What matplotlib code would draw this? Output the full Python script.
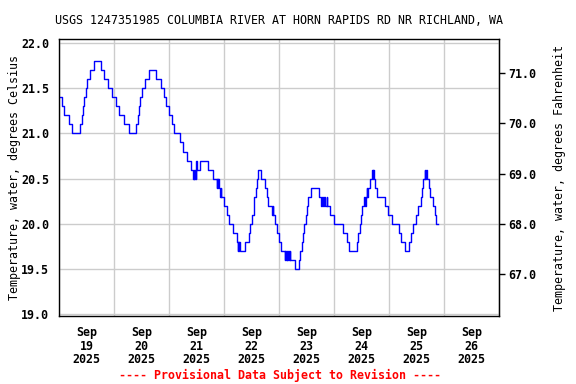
import matplotlib
matplotlib.use("Agg")
import matplotlib.pyplot as plt
import matplotlib.dates as mdates
from datetime import datetime, timedelta

# hours after 2025-09-19 00:00 where the reading changes, and the new reading (deg C)
change_hours = [
    0.0, 1.2, 2.3, 4.4, 5.8, 9.3, 9.9, 10.5, 11.0, 11.6, 12.4, 13.4, 15.4,
    18.3, 19.5, 21.2, 23.3, 24.8, 26.2, 28.5, 30.6, 33.8, 34.3, 34.9, 35.5,
    36.4, 37.4, 39.1, 42.2, 44.6, 46.0, 46.9, 47.9, 49.3, 50.4, 52.8, 54.3,
    55.8, 57.7, 58.6, 58.9, 59.1, 59.4, 59.6, 60.0, 60.3, 61.5, 65.2, 67.0,
    68.8, 69.0, 69.3, 69.5, 69.8, 70.3, 70.5, 70.8, 71.9, 73.2, 74.2, 76.1,
    77.6, 78.0, 78.2, 78.4, 78.6, 78.9, 81.2, 82.7, 83.4, 84.1, 84.9, 85.3,
    85.9, 86.3, 87.0, 88.2, 90.0, 90.7, 91.4, 92.9, 93.2, 93.6, 94.3, 95.1,
    96.0, 96.9, 98.6, 98.8, 99.0, 99.3, 99.5, 100.0, 100.3, 100.6, 101.0,
    103.0, 104.7, 105.3, 105.9, 106.5, 107.1, 107.6, 108.2, 108.8, 110.0,
    113.5, 114.5, 114.8, 115.2, 115.5, 116.0, 116.8, 117.1, 118.3, 120.2,
    124.1, 125.5, 126.6, 129.9, 130.6, 131.3, 131.8, 132.4, 133.2, 133.5,
    133.8, 134.3, 134.6, 134.9, 135.7, 136.7, 137.0, 137.2, 137.6, 138.0,
    138.6, 142.3, 143.6, 145.3, 148.2, 149.1, 151.1, 152.6, 153.7, 154.5,
    155.9, 156.7, 157.8, 158.4, 158.8, 159.6, 159.8, 160.0, 160.7, 161.3,
    161.9, 163.2, 163.9, 164.7, 165.4,
]
temps_c = [
    21.4, 21.3, 21.2, 21.1, 21.0, 21.1, 21.2, 21.3, 21.4, 21.5, 21.6, 21.7, 21.8,
    21.7, 21.6, 21.5, 21.4, 21.3, 21.2, 21.1, 21.0, 21.1, 21.2, 21.3, 21.4,
    21.5, 21.6, 21.7, 21.6, 21.5, 21.4, 21.3, 21.2, 21.1, 21.0, 20.9, 20.8,
    20.7, 20.6, 20.5, 20.6, 20.5, 20.6, 20.5, 20.7, 20.6, 20.7, 20.6, 20.5,
    20.4, 20.5, 20.4, 20.5, 20.4, 20.3, 20.4, 20.3, 20.2, 20.1, 20.0, 19.9,
    19.8, 19.7, 19.8, 19.7, 19.8, 19.7, 19.8, 19.9, 20.0, 20.1, 20.2, 20.3,
    20.4, 20.5, 20.6, 20.5, 20.4, 20.3, 20.2, 20.1, 20.2, 20.1, 20.0, 19.9,
    19.8, 19.7, 19.6, 19.7, 19.6, 19.7, 19.6, 19.7, 19.6, 19.7, 19.6,
    19.5, 19.6, 19.7, 19.8, 19.9, 20.0, 20.1, 20.2, 20.3, 20.4,
    20.3, 20.2, 20.3, 20.2, 20.3, 20.2, 20.3, 20.2, 20.1, 20.0,
    19.9, 19.8, 19.7, 19.8, 19.9, 20.0, 20.1, 20.2, 20.3, 20.2,
    20.3, 20.4, 20.3, 20.4, 20.5, 20.6, 20.5, 20.6, 20.5, 20.4,
    20.3, 20.2, 20.1, 20.0, 19.9, 19.8, 19.7, 19.8, 19.9, 20.0,
    20.1, 20.2, 20.3, 20.4, 20.5, 20.6, 20.5, 20.6, 20.5, 20.4,
    20.3, 20.2, 20.1, 20.0, 20.0,
]

title = "USGS 1247351985 COLUMBIA RIVER AT HORN RAPIDS RD NR RICHLAND, WA"
left_label = "Temperature, water, degrees Celsius"
right_label = "Temperature, water, degrees Fahrenheit"
footer = "---- Provisional Data Subject to Revision ----"
c_ticks = [19.0, 19.5, 20.0, 20.5, 21.0, 21.5, 22.0]
f_ticks = [67.0, 68.0, 69.0, 70.0, 71.0]

start = datetime(2025, 9, 19)
times = [start + timedelta(hours=h) for h in change_hours]

plt.rcParams['font.family'] = ['DejaVu Sans Mono']
plt.rcParams['font.weight'] = 'bold'
fs = 8.4

fig = plt.figure(figsize=(5.76, 3.84), dpi=100)
ax = fig.add_axes([0.1024, 0.1771, 0.7639, 0.7213])

ax.plot(times, temps_c, color='#0000ff', lw=1.0, drawstyle='steps-post')

ax.set_xlim(start, start + timedelta(days=8))
ax.set_ylim(18.98, 22.045)
ax.set_yticks(c_ticks)
ax.yaxis.set_major_formatter(plt.FormatStrFormatter('%.1f'))

# gridlines at midnight, date labels centred on noon
ax.xaxis.set_major_locator(mdates.DayLocator())
ax.xaxis.set_major_formatter(plt.NullFormatter())
ax.xaxis.set_minor_locator(mdates.HourLocator(byhour=[12]))
ax.xaxis.set_minor_formatter(mdates.DateFormatter('%b\n%d\n%Y'))
ax.tick_params(axis='x', which='both', length=0, pad=7, labelsize=fs)
ax.tick_params(axis='y', length=0, pad=7, labelsize=fs)
for lbl in ax.xaxis.get_minorticklabels():
    lbl.set_linespacing(1.08)

ax.grid(True, which='major', color='#cccccc', lw=1.0)
ax.set_axisbelow(True)
for s in ax.spines.values():
    s.set_linewidth(1.0)
    s.set_color('black')

ax.set_ylabel(left_label, fontsize=fs, labelpad=0)
ax.set_title(title, fontsize=fs, pad=11)

# Fahrenheit axis on the right
axr = ax.secondary_yaxis('right', functions=(lambda c: c * 1.8 + 32, lambda f: (f - 32) / 1.8))
axr.set_yticks(f_ticks)
axr.yaxis.set_major_formatter(plt.FormatStrFormatter('%.1f'))
axr.tick_params(length=4, width=1, pad=3, labelsize=fs)
axr.set_ylabel(right_label, fontsize=fs, labelpad=12)

fig.text(0.486, 0.023, footer, color='#ff0000', fontsize=fs, ha='center', va='center', fontweight='bold')

fig.savefig('out.png', dpi=100)
